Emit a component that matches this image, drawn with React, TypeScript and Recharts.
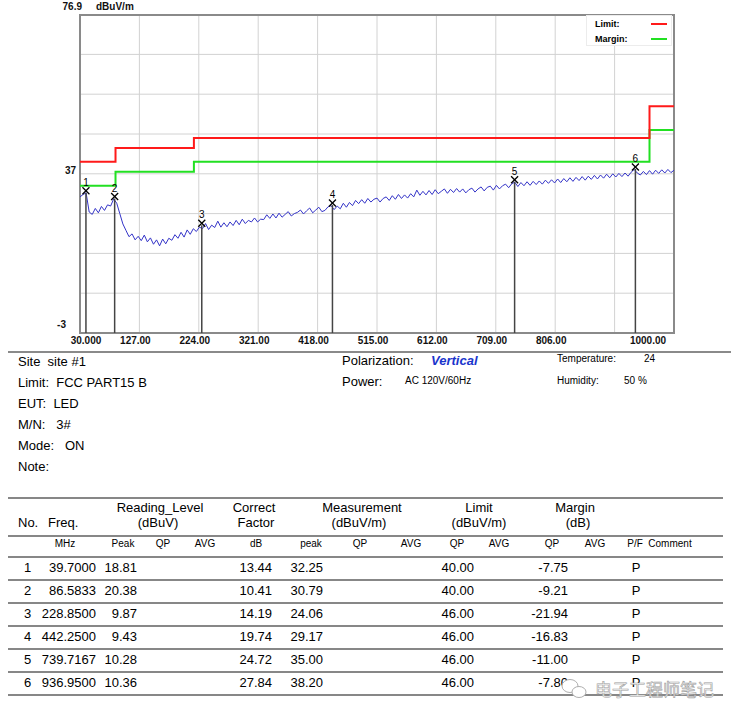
import {
  ComposedChart,
  Line,
  Scatter,
  XAxis,
  YAxis,
  CartesianGrid,
  ReferenceLine,
  ReferenceArea,
  Legend,
} from 'recharts'

const FONT = '"Liberation Sans", Arial, sans-serif'

// sweep 30 MHz .. 1000 MHz, one reading every 5 MHz (dBuV/m)
const sweepStart = 30
const sweepStep = 5
const traceLevels = [
  31.2, 31.8, 32.2, 27.4, 26.8, 28.3, 27.2, 28.8, 27.8, 29.2,
  28.9, 30.7, 29.6, 27.0, 24.4, 22.8, 21.2, 21.9, 20.4, 21.3,
  20.2, 21.6, 19.9, 20.9, 19.3, 20.4, 18.9, 20.6, 19.4, 20.8,
  20.3, 21.7, 20.8, 22.3, 21.1, 22.9, 21.8, 23.2, 22.5, 23.6,
  23.2, 24.5, 23.0, 24.1, 23.5, 25.1, 23.6, 24.7, 23.7, 24.9,
  24.0, 25.3, 24.2, 25.6, 24.5, 25.3, 24.9, 25.9, 24.9, 25.6,
  25.5, 26.7, 25.8, 26.9, 25.9, 27.1, 26.1, 26.8, 27.5, 26.4,
  27.0, 27.3, 27.9, 26.9, 27.7, 28.4, 27.2, 27.9, 28.6, 27.5,
  27.8, 28.7, 29.0, 28.0, 28.9, 28.2, 29.6, 28.6, 29.8, 29.0,
  30.3, 29.5, 30.5, 29.6, 30.8, 29.9, 30.6, 30.9, 29.9, 30.8,
  31.2, 30.3, 31.5, 30.6, 31.8, 30.8, 31.7, 30.9, 32.0, 31.2,
  32.9, 31.6, 32.6, 31.7, 32.8, 31.8, 33.0, 32.0, 32.6, 33.2,
  32.1, 33.1, 32.3, 33.3, 32.4, 33.2, 32.2, 33.0, 33.4, 32.4,
  33.2, 33.7, 32.7, 33.6, 33.9, 32.9, 34.1, 33.2, 34.0, 34.4,
  33.5, 34.5, 34.9, 33.8, 34.8, 34.0, 35.0, 34.1, 35.1, 34.3,
  35.2, 34.4, 35.4, 34.6, 35.5, 34.7, 35.7, 34.8, 35.8, 35.0,
  36.0, 35.1, 36.1, 35.3, 36.3, 35.4, 36.4, 35.6, 36.6, 35.7,
  36.7, 35.9, 36.9, 36.0, 37.0, 36.2, 37.1, 36.3, 37.2, 36.4,
  37.4, 38.1, 37.2, 36.7, 37.6, 36.8, 37.8, 36.9, 37.9, 37.1,
  38.0, 37.2, 38.1, 37.3, 37.9,
]

// FCC part 15 B limit steps and the -6 dB margin line
const limitFreqs = [30, 88, 216, 960, 1000]
const limitLevels = [40, 43.5, 46, 54, 54]
const marginLevels = [34, 37.5, 40, 48, 48]

// marker table
const markerNo = [1, 2, 3, 4, 5, 6]
const markerFreq = [39.7, 86.5833, 228.85, 442.25, 739.7167, 936.95]
const readingPeak = [18.81, 20.38, 9.87, 9.43, 10.28, 10.36]
const correctFactor = [13.44, 10.41, 14.19, 19.74, 24.72, 27.84]
const measurementPeak = [32.25, 30.79, 24.06, 29.17, 35.0, 38.2]
const limitQP = [40, 40, 46, 46, 46, 46]
const marginQP = [-7.75, -9.21, -21.94, -16.83, -11.0, -7.8]
const passFail = ['P', 'P', 'P', 'P', 'P', 'P']

const xTicks = [30, 127, 224, 321, 418, 515, 612, 709, 806, 903, 1000]
const xTickLabels = ['30.000', '127.00', '224.00', '321.00', '418.00', '515.00', '612.00', '709.00', '806.00', '', '1000.00']
const yTicks = [-3, 7, 17, 27, 37, 47, 57, 67, 76.9]
const yTickLabels = ['-3', '', '', '', '37', '', '', '', '76.9']

const legendItems = [
  { label: 'Limit:', color: '#ff1a1a' },
  { label: 'Margin:', color: '#22e022' },
]

const infoLeft = ['Site  site #1', 'Limit:  FCC PART15 B', 'EUT:  LED', 'M/N:   3#', 'Mode:   ON', 'Note:']

const traceData = traceLevels.map((v, i) => ({ f: sweepStart + i * sweepStep, v }))
const limitData = limitFreqs.map((f, i) => ({ f, v: limitLevels[i] }))
const marginData = limitFreqs.map((f, i) => ({ f, v: marginLevels[i] }))
const markerData = markerNo.map((n, i) => ({ n, f: markerFreq[i], v: measurementPeak[i] }))

function XTick(props: any) {
  const { x, y, payload, index } = props
  const label = xTickLabels[xTicks.indexOf(payload.value)]
  if (!label) return null
  let dx = -4
  if (index === 0) dx = 6
  if (index === xTicks.length - 1) dx = -26
  return (
    <text x={x + dx} y={y + 11} textAnchor="middle" fontSize={10} fontWeight={700} fontFamily={FONT} fill="#111">
      {label}
    </text>
  )
}

function YTick(props: any) {
  const { x, y, payload } = props
  const label = yTickLabels[yTicks.indexOf(payload.value)]
  if (!label) return null
  if (label === '76.9') {
    return (
      <g fontSize={10} fontWeight={700} fontFamily={FONT} fill="#111">
        <text x={x + 2} y={y - 5} textAnchor="end">{label}</text>
        <text x={x + 16} y={y - 5}>dBuV/m</text>
      </g>
    )
  }
  const dx = label === '37' ? -4 : -14
  const dy = label === '37' ? 0 : -5
  return (
    <text x={x + dx} y={y + dy} textAnchor="end" fontSize={10} fontWeight={700} fontFamily={FONT} fill="#111">
      {label}
    </text>
  )
}

function MarkerShape(props: any) {
  const { cx, cy, payload } = props
  const y = cy - 2
  return (
    <g>
      <line x1={cx - 3.5} y1={y - 3.5} x2={cx + 3.5} y2={y + 3.5} stroke="#000" strokeWidth={1.3} />
      <line x1={cx - 3.5} y1={y + 3.5} x2={cx + 3.5} y2={y - 3.5} stroke="#000" strokeWidth={1.3} />
      <text x={cx} y={y - 5} textAnchor="middle" fontSize={10} fontFamily={FONT} fill="#000">
        {payload.n}
      </text>
    </g>
  )
}

function LegendBox() {
  return (
    <div
      style={{
        width: 86,
        height: 31,
        background: '#fff',
        border: '1px solid #ececec',
        boxSizing: 'border-box',
        fontFamily: FONT,
        fontSize: 9,
        fontWeight: 700,
      }}
    >
      {legendItems.map((it) => (
        <div key={it.label} style={{ display: 'flex', alignItems: 'center', height: 15, paddingLeft: 8 }}>
          <span style={{ width: 56 }}>{it.label}</span>
          <span style={{ width: 16, height: 2, background: it.color }} />
        </div>
      ))}
    </div>
  )
}

function ReportText() {
  const rowY = (i: number) => 571.5 + 23 * i
  const fmt = (v: number, d = 2) => v.toFixed(d)
  return (
    <svg width={744} height={723} style={{ position: 'absolute', left: 0, top: 0 }} fontFamily={FONT}>
      <line x1={8} y1={352} x2={731} y2={352} stroke="#8a8a8a" strokeWidth={2} />

      {/* test conditions */}
      {infoLeft.map((t, i) => (
        <text key={t} x={18} y={366 + 21 * i} fontSize={13} style={{ whiteSpace: 'pre' }}>
          {t}
        </text>
      ))}
      <text x={342} y={365} fontSize={13}>Polarization:</text>
      <text x={431} y={365} fontSize={13} fontWeight={700} fontStyle="italic" fill="#1a35cc">Vertical</text>
      <text x={342} y={386} fontSize={13}>Power:</text>
      <text x={405} y={384} fontSize={10}>AC 120V/60Hz</text>
      <text x={557} y={362} fontSize={10}>Temperature:</text>
      <text x={644} y={362} fontSize={10}>24</text>
      <text x={557} y={384} fontSize={10}>Humidity:</text>
      <text x={624} y={384} fontSize={10}>50 %</text>

      {/* table rules */}
      {[498, 536, 557].map((y) => (
        <line key={y} x1={8} y1={y} x2={723} y2={y} stroke="#111" strokeWidth={1.2} />
      ))}
      {markerNo.map((n, i) => (
        <line key={n} x1={8} y1={580 + 23 * i} x2={723} y2={580 + 23 * i} stroke="#111" strokeWidth={1.2} />
      ))}

      {/* table heading */}
      <g fontSize={13} textAnchor="middle">
        <text x={18} y={527} textAnchor="start">No.</text>
        <text x={48} y={527} textAnchor="start">Freq.</text>
        <text x={160} y={512}>Reading_Level</text>
        <text x={158} y={527}>(dBuV)</text>
        <text x={254} y={512}>Correct</text>
        <text x={256} y={527}>Factor</text>
        <text x={362} y={512}>Measurement</text>
        <text x={359} y={527}>(dBuV/m)</text>
        <text x={479} y={512}>Limit</text>
        <text x={479} y={527}>(dBuV/m)</text>
        <text x={575} y={512}>Margin</text>
        <text x={578} y={527}>(dB)</text>
      </g>
      <g fontSize={10} textAnchor="middle">
        <text x={65} y={547}>MHz</text>
        <text x={123} y={547}>Peak</text>
        <text x={163} y={547}>QP</text>
        <text x={205} y={547}>AVG</text>
        <text x={256} y={547}>dB</text>
        <text x={311} y={547}>peak</text>
        <text x={360} y={547}>QP</text>
        <text x={411} y={547}>AVG</text>
        <text x={457} y={547}>QP</text>
        <text x={499} y={547}>AVG</text>
        <text x={552} y={547}>QP</text>
        <text x={595} y={547}>AVG</text>
        <text x={635} y={547}>P/F</text>
        <text x={670} y={547}>Comment</text>
      </g>

      {/* table rows */}
      <g fontSize={13}>
        {markerNo.map((n, i) => (
          <g key={n}>
            <text x={27.5} y={rowY(i)} textAnchor="middle">{n}</text>
            <text x={96} y={rowY(i)} textAnchor="end">{fmt(markerFreq[i], 4)}</text>
            <text x={137} y={rowY(i)} textAnchor="end">{fmt(readingPeak[i])}</text>
            <text x={272} y={rowY(i)} textAnchor="end">{fmt(correctFactor[i])}</text>
            <text x={323} y={rowY(i)} textAnchor="end">{fmt(measurementPeak[i])}</text>
            <text x={474} y={rowY(i)} textAnchor="end">{fmt(limitQP[i])}</text>
            <text x={568} y={rowY(i)} textAnchor="end">{fmt(marginQP[i])}</text>
            <text x={636} y={rowY(i)} textAnchor="middle">{passFail[i]}</text>
          </g>
        ))}
      </g>

      {/* watermark */}
      <g stroke="#a5a5a5" fill="#fff" strokeWidth={0.9}>
        <ellipse cx={570} cy={686} rx={8} ry={6.5} />
        <ellipse cx={579} cy={692} rx={7} ry={5.5} />
      </g>
      <text
        x={595}
        y={696}
        fontSize={17}
        fontFamily='"Noto Sans CJK SC", sans-serif'
        fill="#f6f6f6"
        stroke="#a0a0a0"
        strokeWidth={0.6}
      >
        电子工程师笔记
      </text>
    </svg>
  )
}

export default function App() {
  return (
    <div style={{ position: 'absolute', left: 0, top: 0, width: 744, height: 723, background: '#fff' }}>
      <ReportText />
      <div style={{ position: 'absolute', left: 0, top: 0 }}>
        <ComposedChart width={744} height={360} margin={{ top: 15, right: 70, bottom: 0, left: 20 }}>
          <CartesianGrid stroke="#d2d2d2" strokeWidth={1} />
          <XAxis
            type="number"
            dataKey="f"
            domain={[30, 1000]}
            ticks={xTicks}
            interval={0}
            allowDataOverflow
            axisLine={false}
            tickLine={false}
            tickSize={0}
            tickMargin={0}
            height={27}
            tick={<XTick />}
          />
          <YAxis
            type="number"
            domain={[-3, 76.9]}
            ticks={yTicks}
            interval={0}
            allowDataOverflow
            axisLine={false}
            tickLine={false}
            tickSize={0}
            tickMargin={0}
            width={60}
            tick={<YTick />}
          />
          <Legend
            layout="horizontal"
            verticalAlign="middle"
            align="center"
            content={<LegendBox />}
            wrapperStyle={{ left: 586, top: 15, width: 86, height: 31 }}
          />
          <Line
            data={traceData}
            dataKey="v"
            type="linear"
            stroke="#3434c8"
            strokeWidth={1}
            dot={false}
            isAnimationActive={false}
          />
          <Line
            data={marginData}
            dataKey="v"
            type="stepAfter"
            stroke="#22e022"
            strokeWidth={2}
            dot={false}
            isAnimationActive={false}
          />
          <Line
            data={limitData}
            dataKey="v"
            type="stepAfter"
            stroke="#ff1a1a"
            strokeWidth={2}
            dot={false}
            isAnimationActive={false}
          />
          {markerData.map((m) => (
            <ReferenceLine
              key={m.n}
              segment={[
                { x: m.f, y: -3 },
                { x: m.f, y: m.v },
              ]}
              stroke="#444"
              strokeWidth={1.5}
            />
          ))}
          <Scatter data={markerData} dataKey="v" shape={<MarkerShape />} isAnimationActive={false} />
          <ReferenceArea x1={30} x2={1000} y1={-3} y2={76.9} fill="none" stroke="#8a8a8a" strokeWidth={2} />
        </ComposedChart>
      </div>
    </div>
  )
}
